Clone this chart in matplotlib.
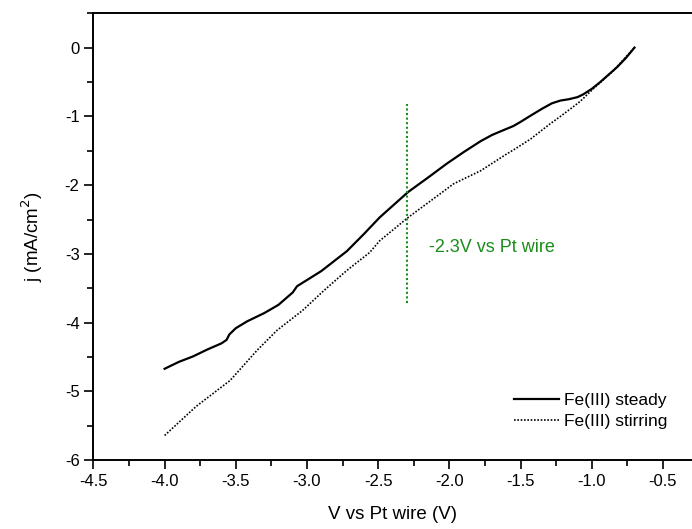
import matplotlib
matplotlib.use("Agg")
import matplotlib.pyplot as plt
from matplotlib.ticker import MultipleLocator

plt.rcParams['font.family'] = ['Liberation Sans', 'DejaVu Sans']

# Fe(III) steady (solid)
steady_v = [-4.0, -3.9, -3.8, -3.7, -3.6, -3.565, -3.545, -3.5, -3.42, -3.3, -3.2,
            -3.1, -3.07, -2.9, -2.72, -2.6, -2.49, -2.29, -2.15, -2.02, -1.9,
            -1.78, -1.7, -1.62, -1.55, -1.5, -1.43, -1.35, -1.28, -1.22, -1.16,
            -1.1, -1.06, -1.0, -0.94, -0.88, -0.82, -0.76, -0.7]
steady_j = [-4.67, -4.57, -4.49, -4.39, -4.30, -4.25, -4.17, -4.08, -3.98, -3.86, -3.74,
            -3.56, -3.47, -3.25, -2.96, -2.71, -2.47, -2.10, -1.89, -1.69, -1.52,
            -1.36, -1.27, -1.20, -1.14, -1.08, -0.99, -0.89, -0.81, -0.77, -0.75,
            -0.72, -0.68, -0.60, -0.50, -0.39, -0.28, -0.15, 0.0]

# Fe(III) stirring (dotted)
stir_v = [-4.0, -3.78, -3.54, -3.35, -3.21, -3.03, -2.88, -2.72, -2.56, -2.49,
          -2.29, -2.1, -1.97, -1.78, -1.6, -1.54, -1.43, -1.3, -1.22, -1.13,
          -1.08, -0.99, -0.92, -0.85, -0.78, -0.7]
stir_j = [-5.64, -5.22, -4.84, -4.40, -4.11, -3.82, -3.53, -3.24, -2.98, -2.81,
          -2.47, -2.18, -1.98, -1.79, -1.55, -1.475, -1.33, -1.12, -1.0, -0.86,
          -0.78, -0.60, -0.47, -0.34, -0.18, 0.0]

marker_v = -2.3
marker_j = (-3.72, -0.82)

fig = plt.figure(figsize=(6.92, 5.29), dpi=100)
ax = fig.add_axes([0.135, 0.13, 0.865, 0.845])

ax.plot(steady_v, steady_j, color='black', lw=1.6, label='Fe(III) steady')
ax.plot(stir_v, stir_j, color='black', lw=1.2, ls=(0, (1, 1)), label='Fe(III) stirring')
ax.vlines(marker_v, marker_j[0], marker_j[1], color='#1a8c1a', lw=1.5, linestyles=(0, (1, 1.2)))
ax.text(-2.14, -2.9, '-2.3V vs Pt wire', color='#1a8c1a', fontsize=13, va='center')

ax.set_xlim(-4.5, -0.296)
ax.set_ylim(-6, 0.5)
ax.xaxis.set_major_locator(MultipleLocator(0.5))
ax.xaxis.set_minor_locator(MultipleLocator(0.25))
ax.yaxis.set_major_locator(MultipleLocator(1))
ax.yaxis.set_minor_locator(MultipleLocator(0.5))
ax.xaxis.set_major_formatter(plt.FuncFormatter(lambda v, p: f'{v:.1f}'))
ax.yaxis.set_major_formatter(plt.FuncFormatter(lambda v, p: f'{v:.0f}'))
ax.tick_params(which='major', direction='out', length=6.5, width=1.2, labelsize=12)
ax.tick_params(which='minor', direction='out', length=4.3, width=1.2)
ax.spines['right'].set_visible(False)
for s in ['left', 'bottom', 'top']:
    ax.spines[s].set_linewidth(1.4)

ax.set_xlabel('V vs Pt wire (V)', fontsize=13.5, labelpad=12)
ax.set_ylabel('j (mA/cm$^2$)', fontsize=13.5, labelpad=14)

ax.legend(loc='lower right', frameon=False, fontsize=12.5, handlelength=2.6,
          handletextpad=0.3, bbox_to_anchor=(0.985, 0.035), labelspacing=0.35)

fig.savefig('out.png', dpi=100)
